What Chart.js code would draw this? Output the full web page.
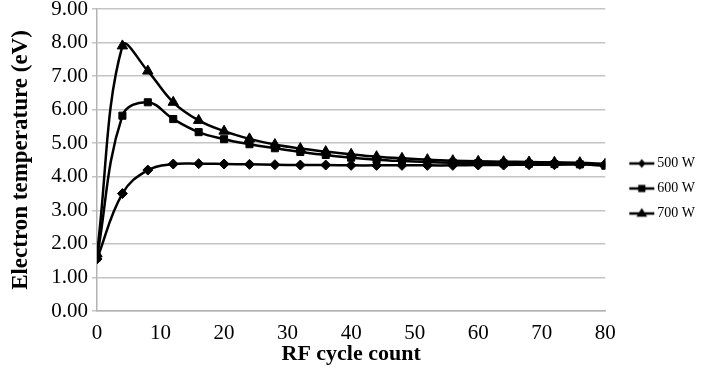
<!DOCTYPE html>
<html>
<head>
<meta charset="utf-8">
<script src="https://cdn.jsdelivr.net/npm/chart.js@4"></script>
<style>
    html, body { margin: 0; padding: 0; background: #ffffff; }
    #wrap { width: 719px; height: 376px; }
</style>
</head>
<body>
<div id="wrap"><canvas id="grafico" width="719" height="376"></canvas></div>
<script>
const ciclos = [0, 4, 8, 12, 16, 20, 24, 28, 32, 36, 40, 44, 48, 52, 56, 60, 64, 68, 72, 76, 80];
const series = ["500 W", "600 W", "700 W"];
const temp500 = [1.55, 3.50, 4.20, 4.38, 4.39, 4.38, 4.37, 4.36, 4.35, 4.35, 4.34, 4.34, 4.34, 4.34, 4.34, 4.35, 4.35, 4.36, 4.36, 4.37, 4.38];
const temp600 = [1.60, 5.82, 6.22, 5.72, 5.33, 5.12, 4.97, 4.85, 4.74, 4.65, 4.57, 4.51, 4.47, 4.44, 4.42, 4.41, 4.40, 4.39, 4.38, 4.37, 4.33];
const temp700 = [1.70, 7.90, 7.15, 6.22, 5.68, 5.36, 5.13, 4.96, 4.84, 4.75, 4.67, 4.60, 4.55, 4.51, 4.48, 4.46, 4.45, 4.44, 4.43, 4.42, 4.38];

const estilos = ["rectRot", "rect", "triangle"];
const raios = [5, 5, 6];
const fonte = "'Liberation Serif', 'Times New Roman', serif";

// desenha o marcador no centro (x, y)
function desenharMarcador(ctx, estilo, x, y, r) {
    ctx.beginPath();
    if (estilo === "rectRot") {
        ctx.moveTo(x, y - r);
        ctx.lineTo(x + r * 0.8, y);
        ctx.lineTo(x, y + r);
        ctx.lineTo(x - r * 0.8, y);
    } else if (estilo === "rect") {
        ctx.rect(x - r * 0.8, y - r * 0.8, r * 1.6, r * 1.6);
    } else {
        ctx.moveTo(x, y - r);
        ctx.lineTo(x + r, y + r * 0.6);
        ctx.lineTo(x - r, y + r * 0.6);
    }
    ctx.closePath();
    ctx.fill();
}

// ícone da legenda: espaço vazio à esquerda, depois linha com marcador
function iconeLegenda(estilo, r) {
    const c = document.createElement("canvas");
    c.width = 48;
    c.height = 14;
    const ctx = c.getContext("2d");
    ctx.strokeStyle = "#000";
    ctx.fillStyle = "#000";
    ctx.lineWidth = 2.5;
    ctx.beginPath();
    ctx.moveTo(20, 7);
    ctx.lineTo(45, 7);
    ctx.stroke();
    desenharMarcador(ctx, estilo, 32.5, 7, r * 0.9);
    return c;
}

const icones = estilos.map((e, i) => iconeLegenda(e, raios[i]));

function pontos(valores) {
    return ciclos.map((x, i) => ({ x, y: valores[i] }));
}

const dados = [temp500, temp600, temp700];

new Chart(document.getElementById("grafico"), {
    type: "line",
    data: {
        datasets: series.map((nome, i) => ({
            label: nome,
            data: pontos(dados[i]),
            borderColor: "#000",
            backgroundColor: "#000",
            borderWidth: 2.5,
            tension: 0.4,
            pointStyle: estilos[i],
            pointRadius: raios[i],
            pointBorderWidth: 1,
            pointBackgroundColor: "#000",
            pointBorderColor: "#000"
        }))
    },
    options: {
        responsive: false,
        animation: false,
        layout: { padding: { top: 9, right: 14, left: 0, bottom: 8 } },
        scales: {
            x: {
                type: "linear",
                min: 0,
                max: 80,
                afterFit: s => { s.height = 57; },
                grid: { display: false },
                border: { display: true, color: "#b3b3b3", width: 1.5 },
                ticks: {
                    stepSize: 10,
                    padding: 2,
                    color: "#000",
                    font: { family: fonte, size: 21 }
                },
                title: {
                    display: true,
                    text: "RF cycle count",
                    color: "#000",
                    padding: { top: 0, bottom: 0 },
                    font: { family: fonte, size: 22, weight: "bold" }
                }
            },
            y: {
                min: 0,
                max: 9,
                afterFit: s => {
                    s.width = 97;
                    s.paddingTop = 0;
                    s.paddingBottom = 0;
                },
                grid: { color: "#c4c4c4", lineWidth: 1.5, tickLength: 5 },
                border: { display: true, color: "#b3b3b3", width: 1.5 },
                ticks: {
                    stepSize: 1,
                    padding: 4,
                    color: "#000",
                    font: { family: fonte, size: 21 },
                    callback: v => v.toFixed(2)
                },
                title: {
                    display: true,
                    text: "Electron temperature (eV)",
                    color: "#000",
                    padding: { top: 7, bottom: 0 },
                    font: { family: fonte, size: 23, weight: "bold" }
                }
            }
        },
        plugins: {
            tooltip: { enabled: false },
            legend: {
                position: "right",
                labels: {
                    usePointStyle: true,
                    pointStyleWidth: 34,
                    padding: 11,
                    color: "#000",
                    font: { family: fonte, size: 14 },
                    generateLabels: chart => chart.data.datasets.map((ds, i) => ({
                        text: ds.label,
                        pointStyle: icones[i],
                        fillStyle: "#000",
                        strokeStyle: "#000",
                        lineWidth: 0,
                        hidden: false,
                        datasetIndex: i,
                        fontColor: "#000"
                    }))
                }
            }
        }
    }
});
</script>
</body>
</html>
